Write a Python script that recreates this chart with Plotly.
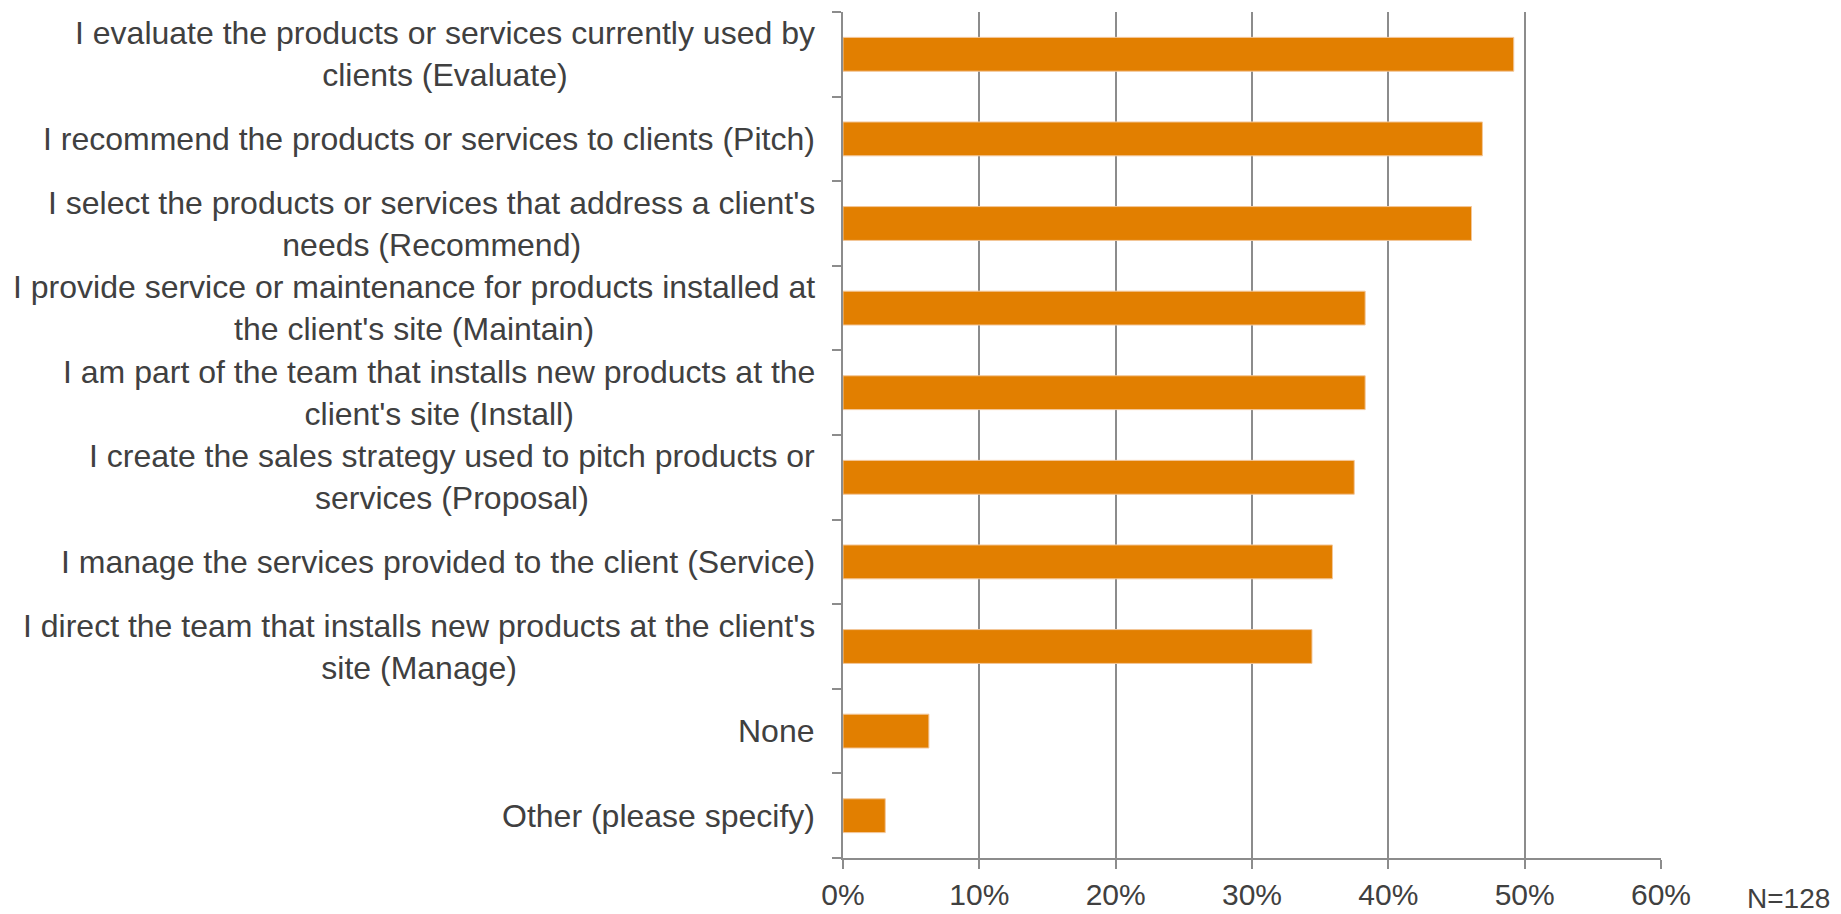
import plotly.graph_objects as go

categories = [
    "I evaluate the products or services currently used by<br>clients (Evaluate)",
    "I recommend the products or services to clients (Pitch)",
    "I select the products or services that address a client's<br>needs (Recommend)",
    "I provide service or maintenance for products installed at<br>the client's site (Maintain)",
    "I am part of the team that installs new products at the<br>client's site (Install)",
    "I create the sales strategy used to pitch products or<br>services (Proposal)",
    "I manage the services provided to the client (Service)",
    "I direct the team that installs new products at the client's<br>site (Manage)",
    "None",
    "Other (please specify)",
]
values = [49.2, 46.9, 46.1, 38.3, 38.3, 37.5, 35.9, 34.4, 6.3, 3.1]
x_ticks = [0, 10, 20, 30, 40, 50, 60]
x_tick_labels = ["0%", "10%", "20%", "30%", "40%", "50%", "60%"]
note = "N=128"

ids = list(range(len(categories)))

FONT = "Liberation Sans, Arial, sans-serif"
TEXT = "#404040"
GRID = "#8c8c8c"

fig = go.Figure()
fig.add_trace(go.Bar(
    x=values,
    y=ids,
    orientation="h",
    width=0.4,
    marker=dict(color="#E27F00", line=dict(color="#F3C79A", width=1)),
    hoverinfo="skip",
))

for i, lab in zip(ids, categories):
    fig.add_annotation(
        x=0, xref="paper", y=i, yref="y",
        text=lab, showarrow=False,
        xanchor="right", yanchor="middle", align="center",
        xshift=-26,
        font=dict(family=FONT, size=32, color=TEXT),
    )

fig.add_annotation(
    x=1.1027, xref="paper", y=0, yref="paper",
    text=note, showarrow=False, xanchor="left", yanchor="middle",
    yshift=-40,
    font=dict(family=FONT, size=28, color=TEXT),
)

fig.update_layout(
    width=1841, height=914,
    margin=dict(l=843, r=180, t=12, b=56, autoexpand=False),
    paper_bgcolor="white", plot_bgcolor="white",
    showlegend=False,
    bargap=0.6,
    font=dict(family=FONT, size=31, color=TEXT),
)
fig.update_xaxes(
    range=[0, 60], automargin=False,
    tickvals=x_ticks, ticktext=x_tick_labels,
    showgrid=True, gridcolor=GRID, gridwidth=1.5,
    showline=True, linecolor=GRID, linewidth=1.5,
    ticks="outside", ticklen=9, tickcolor=GRID, tickwidth=1.5,
    ticklabelstandoff=0,
    tickfont=dict(family=FONT, size=30, color=TEXT),
    zeroline=False, fixedrange=True,
)
fig.update_yaxes(
    type="linear", automargin=False,
    range=[len(categories) - 0.5, -0.5],
    tickvals=[i - 0.5 for i in range(len(categories) + 1)],
    showticklabels=False,
    showgrid=False,
    showline=True, linecolor=GRID, linewidth=1.5,
    ticks="outside", ticklen=9, tickcolor=GRID, tickwidth=1.5,
    zeroline=False, fixedrange=True,
)

fig.write_html("out.html")
